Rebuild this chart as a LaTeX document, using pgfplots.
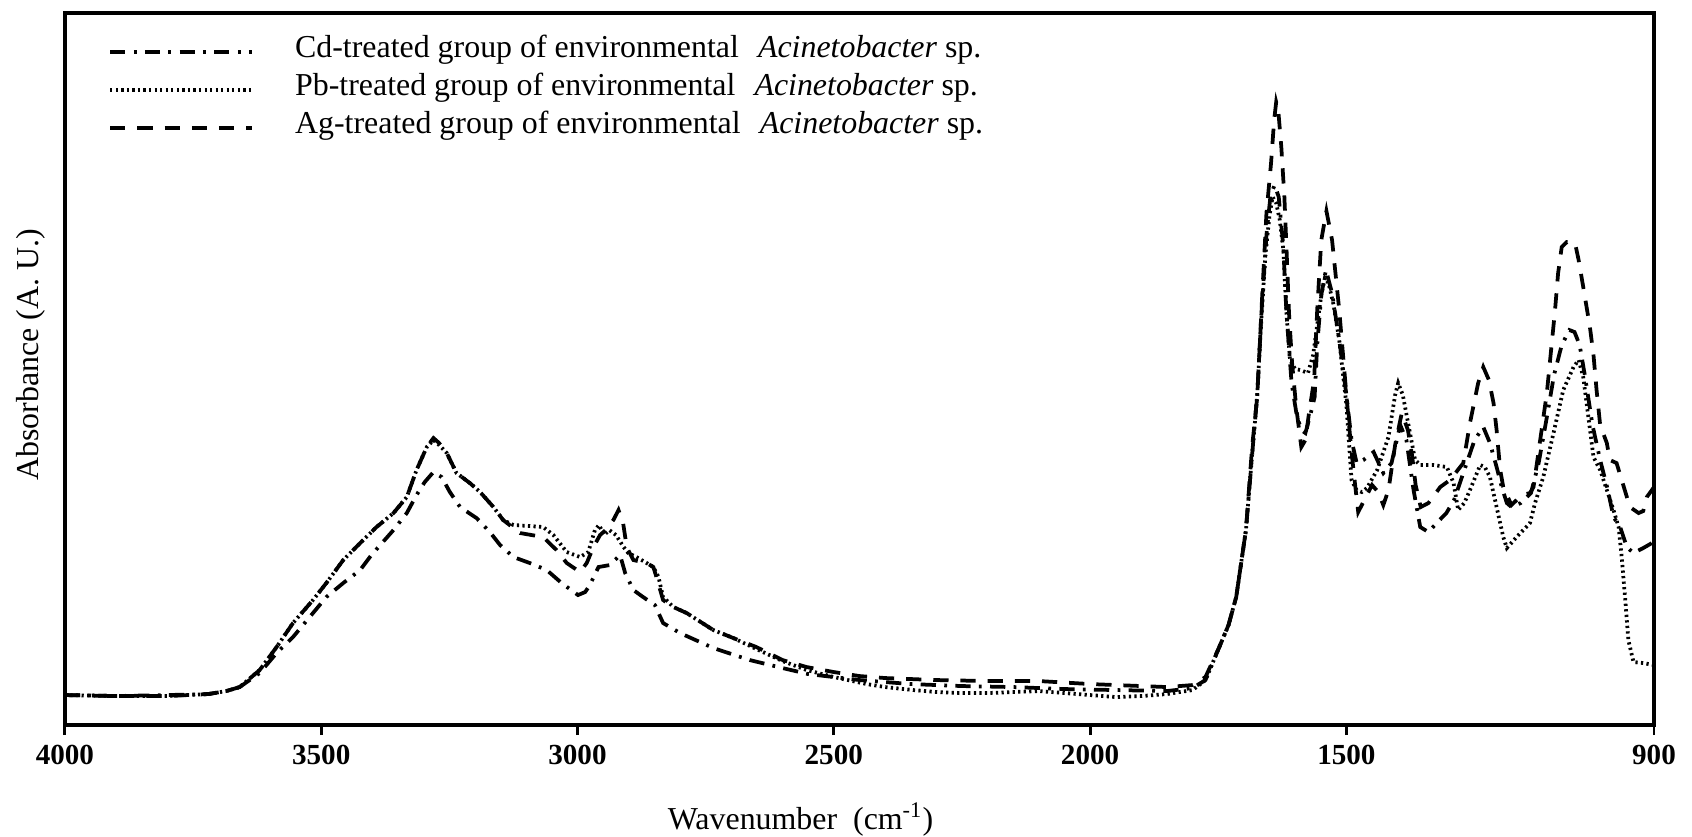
\documentclass[border=0pt]{standalone}
\usepackage{fontspec}
\setmainfont{Liberation Serif}
\usepackage{pgfplots}
\pgfplotsset{compat=1.18}

\begin{document}
\begin{tikzpicture}
\begin{axis}[
  scale only axis,
  width=572.9pt, height=256.7pt,
  x dir=reverse,
  xmin=900, xmax=4000, ymin=0, ymax=712,
  axis line style={line width=1.6pt},
  xtick={4000,3500,3000,2500,2000,1500,900},
  xticklabels={4000,3500,3000,2500,2000,1500,900},
  xtick pos=left,
  tick align=outside,
  major tick length=3.6pt,
  every tick/.style={line width=1pt, black},
  ytick=\empty,
  xticklabel style={font=\fontsize{10.5}{12}\selectfont\bfseries},
  xlabel={Wavenumber\ \ (cm\textsuperscript{-1})},
  ylabel={Absorbance (A.\ U.)},
  xlabel style={at={(axis description cs:0.463,0)}, anchor=center, yshift=-34pt, font=\fontsize{11.5}{13}\selectfont},
  ylabel style={at={(axis description cs:-0.0215,0.52)}, anchor=center, font=\fontsize{11.5}{13}\selectfont},
  legend style={draw=none, fill=none, at={(axis description cs:0.027,0.973)}, anchor=north west,
    font=\fontsize{11.5}{13.5}\selectfont, row sep=0pt, inner sep=0pt,
    nodes={inner sep=0pt, text height=9pt, text depth=4.7pt}},
  legend cell align=left,
  legend image code/.code={\draw[#1] (0pt,0pt) -- (51pt,0pt);},
  every axis plot/.append style={line width=1.35pt, black},
]
% Cd: dash-dot
\addplot[dash pattern=on 5.5pt off 3pt on 1pt off 3pt] coordinates {
(4000,30)(3900,29)(3800,30)(3720,31)(3685,34)(3659,38)(3620,52)(3587,72)(3555,88)(3516,112)
(3490,128)(3457,142)(3424,155)(3402,170)(3359,195)(3333,212)(3314,230)(3298,243)(3281,253)(3265,248)
(3249,233)(3229,218)(3197,207)(3171,193)(3151,180)(3125,168)(3093,162)(3060,155)(3031,142)(2999,130)
(2985,133)(2976,140)(2959,158)(2937,160)(2917,170)(2907,152)(2891,135)(2872,128)(2849,120)(2833,102)
(2800,92)(2735,77)(2664,65)(2600,57)(2550,51)(2450,45)(2350,41)(2250,39)(2150,38)(2050,36)
(1950,35)(1850,34)(1800,37)(1775,45)(1748,78)(1730,100)(1715,128)(1696,195)(1684,270)(1674,330)
(1666,410)(1656,490)(1648,530)(1640,540)(1632,528)(1623,478)(1617,412)(1607,342)(1597,310)(1588,295)
(1580,292)(1568,315)(1562,328)(1557,380)(1549,430)(1540,455)(1528,432)(1514,385)(1500,330)(1490,285)
(1480,262)(1467,265)(1447,273)(1428,252)(1412,262)(1395,300)(1383,285)(1369,235)(1356,198)(1340,193)
(1322,203)(1305,212)(1290,225)(1270,255)(1250,285)(1233,298)(1220,282)(1207,258)(1197,238)(1187,222)
(1178,218)(1160,222)(1140,232)(1125,262)(1110,305)(1095,350)(1080,380)(1065,395)(1055,393)(1045,380)
(1035,350)(1020,300)(1005,265)(990,235)(979,208)(966,198)(953,178)(940,172)(921,177)(904,182)(900,185)
};
\addlegendentry{\hspace*{15pt}Cd-treated group of environmental\hspace{0.35em} \textit{Acinetobacter} sp.}
% Pb: dotted
\addplot[dash pattern=on 0.8pt off 1.2pt] coordinates {
(4000,30)(3900,29)(3800,29)(3720,31)(3685,34)(3659,38)(3620,55)(3587,78)(3555,102)(3516,125)
(3490,142)(3457,165)(3424,182)(3392,198)(3359,212)(3333,228)(3314,255)(3294,278)(3281,285)(3270,280)
(3255,272)(3236,252)(3210,242)(3190,233)(3164,218)(3145,205)(3125,200)(3093,199)(3067,198)(3047,190)
(3021,173)(2995,168)(2979,173)(2966,195)(2958,200)(2948,190)(2938,195)(2925,190)(2910,178)(2901,172)
(2885,168)(2865,162)(2852,158)(2842,148)(2833,128)(2813,118)(2787,112)(2735,95)(2696,87)(2651,76)
(2600,64)(2553,55)(2500,48)(2436,41)(2400,38)(2345,35)(2300,33)(2250,32)(2200,32)(2150,33)
(2100,34)(2050,32)(2000,30)(1950,28)(1900,29)(1850,31)(1800,35)(1775,45)(1748,78)(1730,100)
(1715,128)(1696,195)(1684,270)(1674,330)(1666,405)(1658,470)(1650,510)(1644,528)(1637,522)(1630,505)
(1623,475)(1617,412)(1610,365)(1600,356)(1590,355)(1575,352)(1565,370)(1557,400)(1549,430)(1542,447)
(1535,442)(1525,420)(1514,385)(1500,320)(1490,245)(1480,235)(1470,233)(1460,237)(1440,255)(1418,288)
(1405,330)(1399,342)(1390,330)(1376,292)(1366,265)(1356,260)(1330,260)(1304,258)(1291,242)(1282,215)
(1270,222)(1259,235)(1239,260)(1230,258)(1220,248)(1207,218)(1194,188)(1187,177)(1168,188)(1142,202)
(1132,222)(1116,248)(1096,292)(1077,335)(1057,358)(1047,365)(1038,348)(1028,308)(1018,268)(1005,255)
(992,235)(979,215)(969,198)(963,168)(956,125)(950,85)(940,63)(921,62)(900,60)
};
\addlegendentry{\hspace*{15pt}Pb-treated group of environmental\hspace{0.35em} \textit{Acinetobacter} sp.}
% Ag: dashed
\addplot[dash pattern=on 5.5pt off 4.3pt] coordinates {
(4000,30)(3900,29)(3800,29)(3720,31)(3685,34)(3659,38)(3620,55)(3587,78)(3555,102)(3516,125)
(3490,142)(3457,165)(3424,182)(3392,198)(3359,212)(3333,228)(3314,255)(3294,278)(3281,287)(3270,282)
(3255,272)(3236,252)(3210,242)(3190,233)(3164,218)(3145,205)(3112,192)(3067,188)(3041,175)(3021,162)
(2995,153)(2982,162)(2969,178)(2956,190)(2945,195)(2930,205)(2920,215)(2911,202)(2904,178)(2891,165)
(2865,162)(2852,158)(2846,148)(2833,125)(2813,118)(2787,112)(2735,95)(2696,87)(2651,78)(2600,65)
(2553,58)(2500,53)(2450,49)(2400,47)(2300,45)(2200,44)(2100,44)(2000,41)(1900,39)(1850,38)
(1800,40)(1775,48)(1748,78)(1730,100)(1715,128)(1696,195)(1684,278)(1674,328)(1666,412)(1656,512)
(1647,562)(1641,605)(1637,623)(1633,615)(1627,578)(1621,528)(1617,478)(1612,412)(1606,362)(1598,318)
(1588,278)(1580,285)(1573,312)(1563,345)(1557,415)(1549,485)(1539,514)(1528,485)(1514,415)(1500,330)
(1491,278)(1483,240)(1477,213)(1465,225)(1450,240)(1438,233)(1428,220)(1418,235)(1405,280)(1392,312)
(1380,295)(1372,270)(1365,240)(1355,218)(1340,222)(1317,238)(1298,245)(1272,262)(1259,302)(1243,342)
(1233,358)(1222,345)(1213,322)(1207,295)(1200,255)(1194,238)(1178,220)(1158,230)(1142,232)(1135,238)
(1122,285)(1109,332)(1093,415)(1087,452)(1080,478)(1070,483)(1054,482)(1047,465)(1036,432)(1025,398)
(1018,370)(1012,335)(1005,300)(992,282)(986,265)(973,262)(957,235)(947,218)(930,212)(921,214)
(914,228)(904,235)(900,238)
};
\addlegendentry{\hspace*{15pt}Ag-treated group of environmental\hspace{0.35em} \textit{Acinetobacter} sp.}
\coordinate (bl) at (rel axis cs:0,0);
\end{axis}
\pgfresetboundingbox
\path[use as bounding box] ([shift={(-23.4pt,-40pt)}]bl) rectangle ([shift={(586.6pt,261.4pt)}]bl);
\end{tikzpicture}
\end{document}
